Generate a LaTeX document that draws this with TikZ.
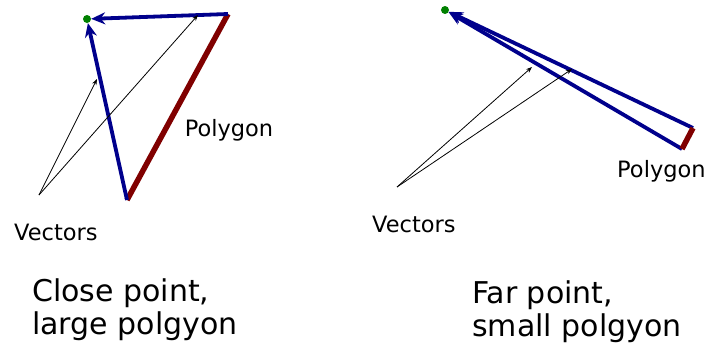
\documentclass[tikz,border=0pt]{standalone}
\usepackage{fontspec}
\setmainfont{DejaVu Sans}
\usetikzlibrary{arrows.meta}
\definecolor{polyred}{RGB}{128,0,0}
\definecolor{raynavy}{RGB}{0,0,140}
\definecolor{dotgreen}{RGB}{0,128,0}

\begin{document}
\begin{tikzpicture}[x=1pt,y=-1pt,
    ray/.style={raynavy,line width=3.8pt,-{Stealth[length=14pt,width=12pt]}},
    vec/.style={line width=0.8pt,-{Stealth[length=6pt,width=4.5pt]}},
    poly/.style={polyred,line width=5.5pt},
    dot/.style={circle,fill=dotgreen,inner sep=0pt,minimum size=8pt},
    lbl/.style={inner sep=0pt,font=\fontsize{22.5}{27}\selectfont},
    caption/.style={inner sep=0pt,align=left,font=\fontsize{30}{33}\selectfont}]
                \useasboundingbox (0,0) rectangle (706,343);
                % close point, large polygon
                \coordinate (pa) at (228,14);
                \coordinate (pb) at (127,200);
                \coordinate (va) at (39,195);
                \node[dot] (eye) at (87,19) {};
                \draw[poly] (pa) -- (pb);
                \draw[ray] (pb) -- (eye);
                \draw[ray] (pa) -- (eye);
                \draw[vec] (va) -- (97,79);
                \draw[vec] (va) -- (198,15);
                \node[lbl,anchor=base] (polyl) at (229,136) {Polygon};
                \node[lbl,anchor=base west] (vecl) at (14,240) {Vectors};
                \node[caption,anchor=base west] (closel) at (32,334) {Close point,\\large polgyon};
                % far point, small polygon
                \coordinate (qa) at (693,128);
                \coordinate (qb) at (682,149);
                \coordinate (vb) at (397,187);
                \node[dot] (eyef) at (445,10) {};
                \draw[ray] (qa) -- (eyef);
                \draw[ray] (qb) -- (eyef);
                \draw[poly] (qa) -- (qb);
                \draw[vec] (vb) -- (532,67);
                \draw[vec] (vb) -- (572,69);
                \node[lbl,anchor=base west] (polyr) at (617,177) {Polygon};
                \node[lbl,anchor=base west] (vecr) at (372,232) {Vectors};
                \node[caption,anchor=base west] (farl) at (472,336) {Far point,\\small polgyon};
            \end{tikzpicture}
\end{document}
